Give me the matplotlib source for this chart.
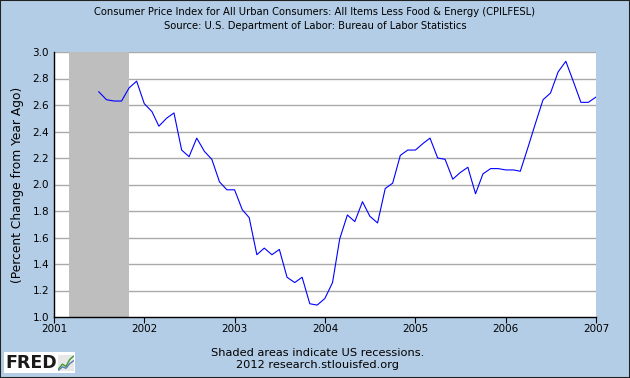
import matplotlib
matplotlib.use("Agg")
import matplotlib.pyplot as plt
import matplotlib.dates as mdates
import matplotlib.patches as mpatches
import pandas as pd

# CPILFESL, percent change from year ago, monthly from Jul 2001 to Jan 2007
start_month = "2001-07-01"
values = [
    2.70, 2.64, 2.63, 2.63, 2.73, 2.78,                          # 2001 Jul-Dec
    2.61, 2.55, 2.44, 2.50, 2.54, 2.26, 2.21, 2.35, 2.25, 2.19, 2.02, 1.96,  # 2002
    1.96, 1.81, 1.75, 1.47, 1.52, 1.47, 1.51, 1.30, 1.26, 1.30, 1.10, 1.09,  # 2003
    1.14, 1.26, 1.59, 1.77, 1.72, 1.87, 1.76, 1.71, 1.97, 2.01, 2.22, 2.26,  # 2004
    2.26, 2.31, 2.35, 2.20, 2.19, 2.04, 2.09, 2.13, 1.93, 2.08, 2.12, 2.12,  # 2005
    2.11, 2.11, 2.10, 2.28, 2.46, 2.64, 2.69, 2.85, 2.93, 2.78, 2.62, 2.62,  # 2006
    2.66,                                                        # 2007 Jan
]
recession = ("2001-03-01", "2001-11-01")
title = ("Consumer Price Index for All Urban Consumers: All Items Less Food & Energy (CPILFESL)\n"
         "Source: U.S. Department of Labor: Bureau of Labor Statistics")
ylabel = "(Percent Change from Year Ago)"
footer = "Shaded areas indicate US recessions.\n2012 research.stlouisfed.org"
yticks = [1.0, 1.2, 1.4, 1.6, 1.8, 2.0, 2.2, 2.4, 2.6, 2.8, 3.0]
years = list(range(2001, 2008))

dates = pd.date_range(start_month, periods=len(values), freq="MS")

bg = "#B4CDE6"
plt.rcParams["font.family"] = "DejaVu Sans"
fig = plt.figure(figsize=(6.3, 3.78), dpi=100, facecolor=bg)
ax = fig.add_axes([54 / 630, 1 - 317 / 378, 542 / 630, 265 / 378])
ax.set_facecolor("white")

ax.axvspan(pd.Timestamp(recession[0]), pd.Timestamp(recession[1]), color="#BEBEBE", lw=0, zorder=1)
for t in yticks[1:]:
    ax.axhline(t, color="#AAAAAA", lw=1.0, zorder=0.5)
ax.plot(dates, values, color="#0000FF", lw=0.8, zorder=3)

ax.set_xlim(pd.Timestamp("2001-01-01"), pd.Timestamp("2007-01-01"))
ax.set_ylim(1.0, 3.0)
ax.set_xticks([pd.Timestamp(f"{y}-01-01") for y in years])
ax.xaxis.set_major_formatter(mdates.DateFormatter("%Y"))
ax.set_yticks(yticks)
ax.set_yticklabels([f"{t:.1f}" for t in yticks])
ax.tick_params(axis="x", length=4, width=0.8, color="black", labelsize=7.5, pad=1)
ax.tick_params(axis="y", length=0, labelsize=7.5, pad=3.5)
for s in ["top", "right"]:
    ax.spines[s].set_visible(False)
for s in ["left", "bottom"]:
    ax.spines[s].set_color("black")
    ax.spines[s].set_linewidth(1.0)
ax.set_ylabel(ylabel, fontsize=8.8, labelpad=6)

fig.text(0.5, 1 - 19 / 378, title, ha="center", va="center", fontsize=7.2, linespacing=1.5)
fig.text(318 / 630, 1 - 359 / 378, footer, ha="center", va="center", fontsize=8.2, linespacing=1.25)

# FRED logo box
fig.patches.append(mpatches.Rectangle((4 / 630, 5 / 378), 71 / 630, 21 / 378, transform=fig.transFigure,
                                      facecolor="white", edgecolor="none", zorder=1))
fig.text(5 / 630, 1 - 363 / 378, "FRED", ha="left", va="center", fontsize=12.5, fontweight="bold",
         color="#1a1a1a", zorder=3)
icon = fig.add_axes([58 / 630, 7 / 378, 16 / 630, 16 / 378])
icon.set_zorder(2)
icon.set_facecolor("#E8E8E8")
icon.plot([0, 1, 2, 3, 4], [0.5, 1.5, 1.0, 2.5, 3.2], color="#3a9a2a", lw=1.0)
icon.plot([0, 1, 2, 3, 4], [0.2, 0.9, 0.6, 1.6, 2.2], color="#5a7ab8", lw=1.0)
icon.set_xlim(-0.2, 4.2)
icon.set_ylim(0, 3.5)
icon.set_xticks([])
icon.set_yticks([])
for s in icon.spines.values():
    s.set_visible(False)

# outer frame
fig.patches.append(mpatches.Rectangle((0, 0), 1, 1, transform=fig.transFigure, facecolor="none",
                                      edgecolor="#222222", lw=1.5, zorder=5))

fig.savefig("out.png", dpi=100, facecolor=bg)
